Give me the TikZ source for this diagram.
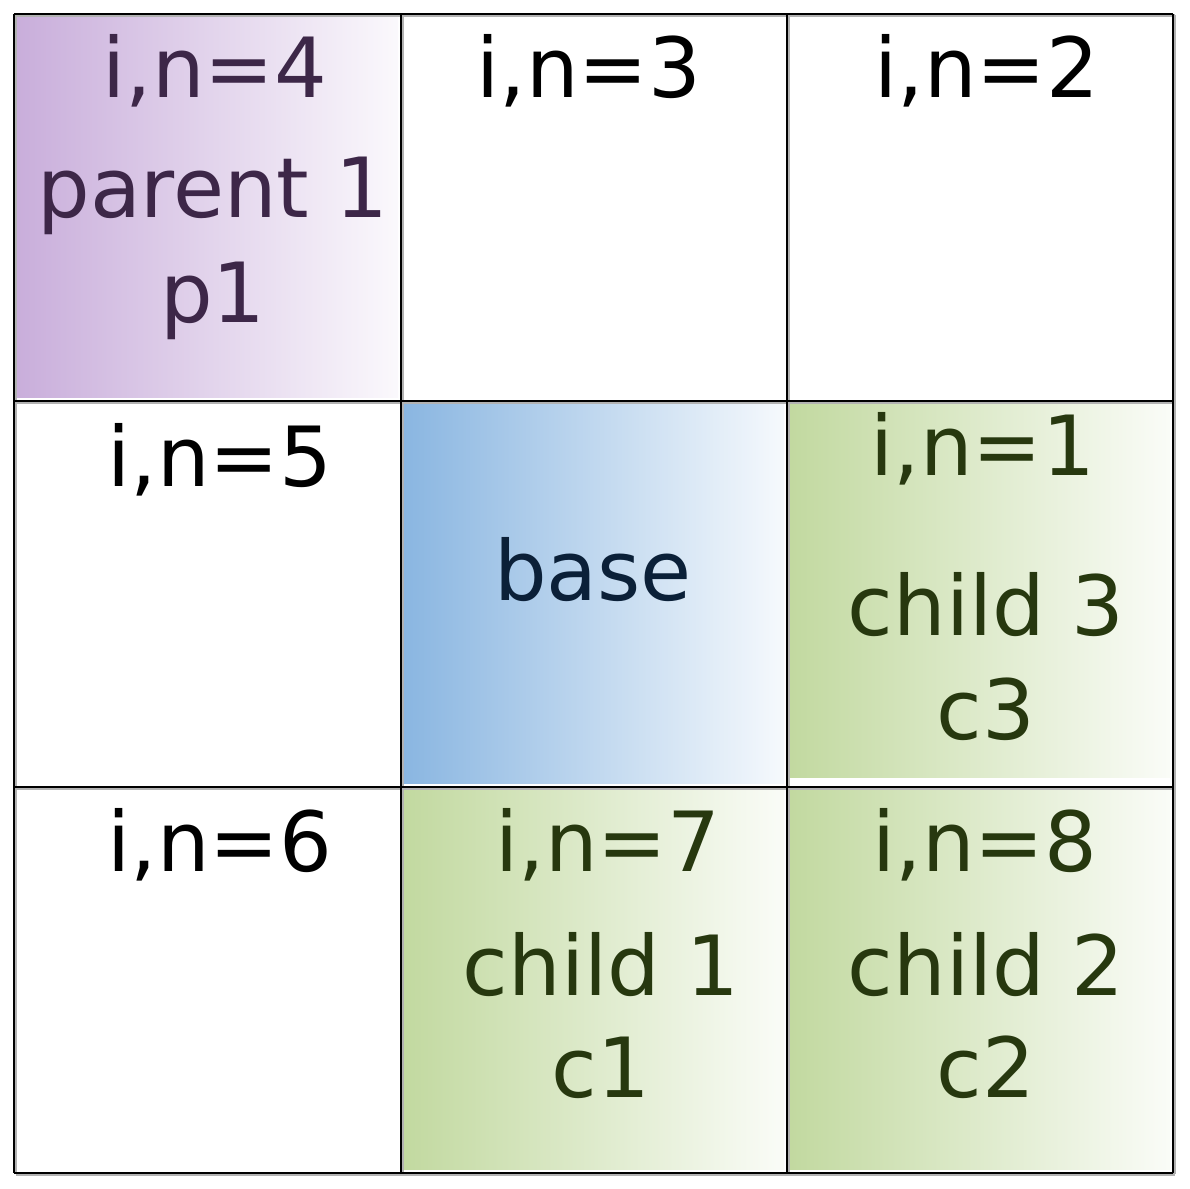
\documentclass[tikz,border=0pt]{standalone}
\usepackage{fontspec}
\setmainfont{DejaVu Sans}
\usepackage{tikz}

\definecolor{pfill}{HTML}{C9AEDB}
\definecolor{bfill}{HTML}{8AB6E1}
\definecolor{gfill}{HTML}{C2D9A0}
\definecolor{ptext}{HTML}{3D2748}
\definecolor{btext}{HTML}{0B2038}
\definecolor{gtext}{HTML}{27380F}

\tikzset{
  lbl/.style={anchor=base,inner sep=0pt,font=\fontsize{23.6}{28}\selectfont},
  gridline/.style={line width=0.75pt,black},
  gridshadow/.style={line width=0.75pt,black!30}
}

\begin{document}
\begin{tikzpicture}[x=0.01cm,y=-0.01cm]

\useasboundingbox (0,0) rectangle (1190,1189);

\shade[left color=pfill,right color=pfill!8] (17,17) rectangle (398,398);
\shade[left color=bfill,right color=bfill!8] (404,404) rectangle (784,784);
\shade[left color=gfill,right color=gfill!8] (790,404) rectangle (1170,778);
\shade[left color=gfill,right color=gfill!8] (404,790) rectangle (784,1170);
\shade[left color=gfill,right color=gfill!8] (790,790) rectangle (1170,1170);

\foreach \p in {14,401,787,1173} {
  \draw[gridshadow] (\p+1.5,15.5) -- (\p+1.5,1174.5);
  \draw[gridshadow] (15.5,\p+1.5) -- (1174.5,\p+1.5);
}
\foreach \p in {14,401,787,1173} {
  \draw[gridline] (\p,14) -- (\p,1173);
  \draw[gridline] (14,\p) -- (1173,\p);
}

\node[lbl,ptext] (n4) at (215,98) {i,n=4};
\node[lbl,ptext] (par1) at (213,218) {parent 1};
\node[lbl,ptext] (p1) at (213,323) {p1};

\node[lbl] (n3) at (589,98) {i,n=3};
\node[lbl] (n2) at (987,98) {i,n=2};
\node[lbl] (n5) at (220,487) {i,n=5};
\node[lbl] (n6) at (220,872) {i,n=6};

\node[lbl,btext] (base) at (593,601) {base};

\node[lbl,gtext] (n1) at (983,476) {i,n=1};
\node[lbl,gtext] (ch3) at (986,636) {child 3};
\node[lbl,gtext] (c3) at (986,740) {c3};

\node[lbl,gtext] (n7) at (608,872) {i,n=7};
\node[lbl,gtext] (ch1) at (601,996) {child 1};
\node[lbl,gtext] (c1) at (601,1098) {c1};

\node[lbl,gtext] (n8) at (985,872) {i,n=8};
\node[lbl,gtext] (ch2) at (986,996) {child 2};
\node[lbl,gtext] (c2) at (986,1098) {c2};

\end{tikzpicture}
\end{document}
